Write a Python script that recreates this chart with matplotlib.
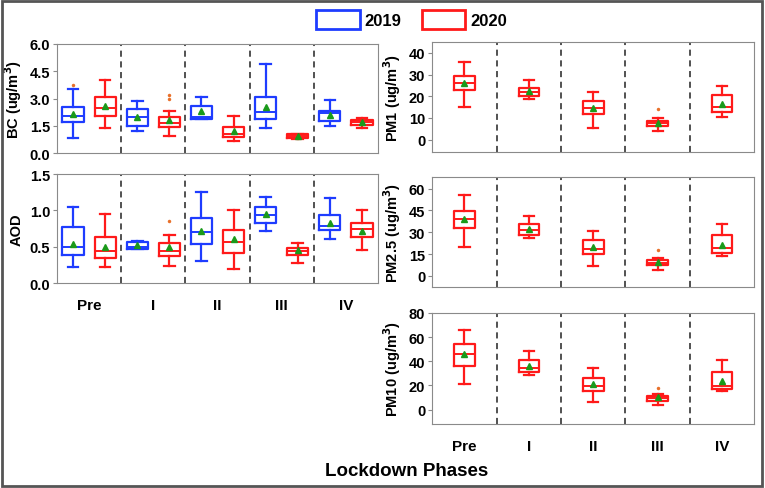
import matplotlib
matplotlib.use('Agg')
import matplotlib.pyplot as plt
from matplotlib.patches import Patch, Rectangle

plt.rcParams['font.family'] = ['Liberation Sans', 'DejaVu Sans']
plt.rcParams['font.weight'] = 'bold'

# ── data: [whislo, q1, median, q3, whishi, mean] per phase ──
phases = ['Pre', 'I', 'II', 'III', 'IV']

bc_2019 = [[0.83, 1.69, 2.02, 2.51, 3.52, 2.15],
           [1.19, 1.47, 1.96, 2.42, 2.88, 1.96],
           [1.90, 1.90, 2.00, 2.60, 3.10, 2.29],
           [1.38, 1.87, 2.24, 3.10, 4.90, 2.51],
           [1.50, 1.78, 2.20, 2.33, 2.92, 2.11]]
bc_2020 = [[1.38, 2.02, 2.48, 3.06, 4.02, 2.60],
           [0.95, 1.41, 1.63, 1.96, 2.33, 1.83],
           [0.68, 0.86, 1.05, 1.41, 2.02, 1.23],
           [0.77, 0.83, 0.92, 1.03, 1.06, 0.92],
           [1.38, 1.56, 1.71, 1.82, 1.93, 1.69]]
bc_2019_out = [[3.74], [], [], [], []]
bc_2020_out = [[], [3.2, 2.95], [], [], []]

aod_2019 = [[0.22, 0.38, 0.49, 0.77, 1.05, 0.54],
            [0.47, 0.47, 0.50, 0.56, 0.58, 0.52],
            [0.31, 0.54, 0.70, 0.90, 1.26, 0.72],
            [0.71, 0.83, 0.93, 1.05, 1.18, 0.95],
            [0.60, 0.73, 0.79, 0.94, 1.17, 0.83]]
aod_2020 = [[0.22, 0.35, 0.44, 0.64, 0.95, 0.50],
            [0.23, 0.37, 0.44, 0.55, 0.66, 0.49],
            [0.20, 0.42, 0.57, 0.73, 1.00, 0.60],
            [0.28, 0.39, 0.44, 0.48, 0.55, 0.45],
            [0.45, 0.63, 0.74, 0.83, 1.00, 0.72]]
aod_2019_out = [[], [], [], [], []]
aod_2020_out = [[], [0.86], [], [], []]

pm1_2020 = [[14.9, 22.8, 26.2, 29.4, 35.7, 26.2],
            [18.9, 20.0, 22.0, 24.0, 27.7, 22.3],
            [5.4, 12.0, 14.6, 17.8, 22.0, 14.8],
            [3.8, 6.5, 7.7, 8.8, 10.2, 7.7],
            [10.5, 12.8, 15.1, 20.5, 24.8, 16.6]]
pm1_out = [[], [], [], [14.0], []]

pm25_2020 = [[19.9, 33.0, 39.4, 44.4, 55.9, 39.4],
             [26.3, 28.4, 31.8, 36.0, 41.0, 32.5],
             [6.6, 15.3, 18.8, 24.5, 30.9, 19.9],
             [4.4, 7.3, 8.9, 10.8, 12.6, 9.6],
             [13.5, 15.8, 19.2, 28.4, 35.7, 21.5]]
pm25_out = [[], [], [], [17.6], []]

pm10_2020 = [[21.2, 35.9, 46.0, 54.3, 65.9, 46.0],
             [29.0, 30.9, 34.5, 41.1, 48.6, 36.4],
             [6.3, 15.2, 19.3, 25.9, 34.8, 21.2],
             [4.1, 7.4, 9.7, 11.0, 12.7, 10.2],
             [15.2, 17.1, 19.9, 31.4, 41.1, 23.7]]
pm10_out = [[], [], [], [17.9], []]

BLUE = '#1e3cff'
RED = '#ff1a1a'
GREEN = '#1a9a1a'


def stats(rows, outs):
    res = []
    for r, o in zip(rows, outs):
        res.append(dict(whislo=r[0], q1=r[1], med=r[2], q3=r[3], whishi=r[4],
                        mean=r[5], fliers=o))
    return res


def draw(ax, rows, outs, pos, color, width):
    ax.bxp(stats(rows, outs), positions=pos, widths=width, showmeans=True,
           capwidths=width * 0.5,
           boxprops=dict(color=color, lw=1.6),
           whiskerprops=dict(color=color, lw=1.6),
           capprops=dict(color=color, lw=1.6),
           medianprops=dict(color=color, lw=1.4),
           meanprops=dict(marker='^', markerfacecolor=GREEN, markeredgecolor=GREEN,
                          markersize=5),
           flierprops=dict(marker='o', markerfacecolor='#e8702a', markeredgecolor='none',
                           markersize=2.5))


def style(ax, ylabel, ylim, yticks, fmt):
    ax.set_xlim(-0.5, 4.5)
    ax.set_ylim(*ylim)
    ax.set_yticks(yticks)
    ax.set_yticklabels([fmt.format(v) for v in yticks], fontsize=10.5, fontweight='bold')
    ax.set_xticks([])
    for x in [0.5, 1.5, 2.5, 3.5]:
        ax.axvline(x, color='#222222', lw=1.1, ls=(0, (4, 3)))
    for s in ax.spines.values():
        s.set_color('#8a8a8a')
    ax.tick_params(axis='y', length=3, color='#8a8a8a', pad=2)
    ax.set_ylabel(ylabel, fontsize=10.5, fontweight='bold', labelpad=4)


fig = plt.figure(figsize=(7.65, 4.89), dpi=100)

ax_bc = fig.add_axes([0.0745, 0.685, 0.4196, 0.223])
ax_aod = fig.add_axes([0.0745, 0.419, 0.4196, 0.223])
ax_pm1 = fig.add_axes([0.565, 0.687, 0.421, 0.225])
ax_pm25 = fig.add_axes([0.565, 0.411, 0.421, 0.225])
ax_pm10 = fig.add_axes([0.565, 0.131, 0.421, 0.227])

left_pos = list(range(5))
draw(ax_bc, bc_2019, bc_2019_out, [p - 0.25 for p in left_pos], BLUE, 0.33)
draw(ax_bc, bc_2020, bc_2020_out, [p + 0.25 for p in left_pos], RED, 0.33)
style(ax_bc, 'BC (ug/m$^\\mathbf{3}$)', (0, 6), [0, 1.5, 3.0, 4.5, 6.0], '{:.1f}')

draw(ax_aod, aod_2019, aod_2019_out, [p - 0.25 for p in left_pos], BLUE, 0.33)
draw(ax_aod, aod_2020, aod_2020_out, [p + 0.25 for p in left_pos], RED, 0.33)
style(ax_aod, 'AOD', (0, 1.5), [0, 0.5, 1.0, 1.5], '{:.1f}')

draw(ax_pm1, pm1_2020, pm1_out, left_pos, RED, 0.32)
style(ax_pm1, 'PM1 (ug/m$^\\mathbf{3}$)', (-5.7, 45), [0, 10, 20, 30, 40], '{:.0f}')

draw(ax_pm25, pm25_2020, pm25_out, left_pos, RED, 0.32)
style(ax_pm25, 'PM2.5 (ug/m$^\\mathbf{3}$)', (-7.6, 68), [0, 15, 30, 45, 60], '{:.0f}')

draw(ax_pm10, pm10_2020, pm10_out, left_pos, RED, 0.32)
style(ax_pm10, 'PM10 (ug/m$^\\mathbf{3}$)', (-11.9, 80), [0, 20, 40, 60, 80], '{:.0f}')

# phase labels under AOD and PM10
for ax in (ax_aod, ax_pm10):
    ax.set_xticks(left_pos)
    ax.set_xticklabels(phases, fontsize=11, fontweight='bold')
    ax.tick_params(axis='x', length=0, pad=11)

fig.text(0.531, 0.036, 'Lockdown Phases', ha='center', va='center',
         fontsize=13.5, fontweight='bold')

handles = [Patch(facecolor='white', edgecolor=BLUE, lw=2, label='2019'),
           Patch(facecolor='white', edgecolor=RED, lw=2, label='2020')]
fig.legend(handles=handles, loc='center', bbox_to_anchor=(0.538, 0.958), ncol=2,
           frameon=False, prop=dict(size=12, weight='bold'),
           handlelength=2.6, handleheight=1.3, handletextpad=0.3, columnspacing=1.2)

fig.patches.append(Rectangle((0.003, 0.004), 0.993, 0.992, transform=fig.transFigure,
                             fill=False, edgecolor='#555555', lw=2))

fig.savefig('out.png', dpi=100)
